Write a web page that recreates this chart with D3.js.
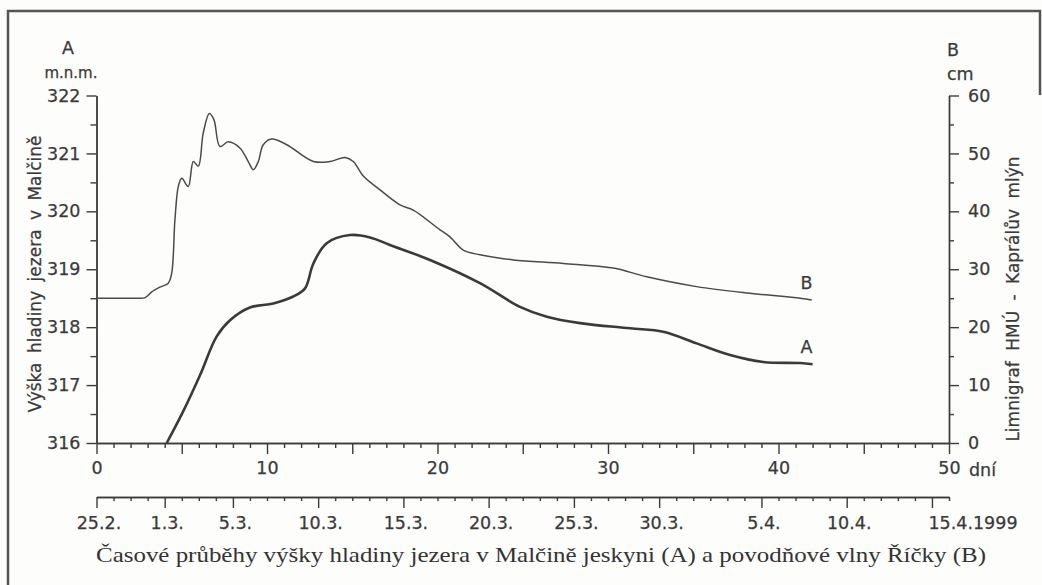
<!DOCTYPE html>
<html>
<head>
<meta charset="utf-8">
<script src="https://cdn.jsdelivr.net/npm/d3@7"></script>
<style>
  body { margin: 0; background: #fdfdfc; }
  svg { display: block; }
</style>
</head>
<body>
<div id="chart"></div>
<script>
// Reference values
// A: lake level in Malčina cave (m n.m.), B: flood wave of Říčka (cm)
const aDays = [4.12, 5.09, 6.07, 7.05, 7.83, 9.0, 10.37, 11.54, 12.23, 12.72, 13.5, 14.87, 16.04, 17.21, 19.56, 22.49, 24.84, 26.41, 28.36, 31.29, 33.24, 35.2, 37.16, 39.1, 41.27, 42.0];
const aLevel = [316.0, 316.55, 317.17, 317.84, 318.12, 318.34, 318.41, 318.53, 318.67, 319.10, 319.45, 319.59, 319.55, 319.42, 319.16, 318.76, 318.35, 318.18, 318.07, 317.98, 317.92, 317.72, 317.52, 317.40, 317.38, 317.36];

const bDays = [0, 2.4, 2.85, 3.24, 3.72, 4.21, 4.41, 4.6, 4.8, 5.0, 5.38, 5.68, 5.97, 6.26, 6.62, 6.89, 7.24, 7.73, 8.42, 8.9, 9.2, 9.49, 9.78, 10.28, 11.16, 12.72, 13.7, 14.58, 15.06, 15.65, 16.63, 17.8, 18.58, 20.15, 20.73, 21.51, 22.49, 24.45, 27.38, 30.31, 32.27, 35.2, 38.13, 41.27, 41.95];
const bCm = [25, 25, 25.1, 26.1, 26.9, 27.6, 29.3, 38.5, 44.3, 45.7, 44.3, 48.6, 47.8, 53.5, 56.9, 55.8, 51.2, 52.0, 50.9, 48.6, 47.2, 48.6, 51.5, 52.5, 51.5, 48.6, 48.6, 49.3, 48.6, 46.1, 43.7, 41.1, 40.2, 36.8, 35.6, 33.3, 32.5, 31.6, 31.0, 30.2, 28.7, 27.0, 25.9, 25.0, 24.7];

// axis ticks
const levelTicks = [316, 317, 318, 319, 320, 321, 322];
const cmTicks = [0, 10, 20, 30, 40, 50, 60];
const dateLabels = ["25.2.", "1.3.", "5.3.", "10.3.", "15.3.", "20.3.", "25.3.", "30.3.", "5.4.", "10.4.", "15.4.1999"];
const dateDays = [0, 4, 8, 13, 18, 23, 28, 33, 39, 44, 49];

const width = 1042;
const height = 585;
const ink = "#3b3b3b";
const tickFont = "'DejaVu Sans', sans-serif";
const fs = 17.5;

const svg = d3.select("#chart")
    .append("svg")
    .attr("width", width)
    .attr("height", height);

// frame
svg.append("path")
    .attr("d", "M8,590 L8,11 L1040,11 L1040,95")
    .attr("fill", "none")
    .attr("stroke", "#555")
    .attr("stroke-width", 2.5);

// scales
const x = d3.scaleLinear().domain([0, 50]).range([96.5, 949]);
const yA = d3.scaleLinear().domain([316, 322]).range([443, 95.5]);
const yB = d3.scaleLinear().domain([0, 60]).range([443, 95.5]);

function styleAxis(g) {
    g.attr("font-family", tickFont).attr("font-size", fs);
    g.selectAll("path, line").attr("stroke", ink).attr("stroke-width", 1.4);
    g.selectAll("text").attr("fill", "#3a3a3a").attr("stroke", "#3a3a3a").attr("stroke-width", 0.25);
}

// left axis, minor then major
svg.append("g")
    .attr("transform", `translate(${x(0)},0)`)
    .call(d3.axisLeft(yA).tickValues(d3.range(316.5, 322, 1)).tickSize(6).tickSizeOuter(0).tickFormat(""))
    .call(styleAxis);
svg.append("g")
    .attr("transform", `translate(${x(0)},0)`)
    .call(d3.axisLeft(yA).tickValues(levelTicks).tickSize(10).tickSizeOuter(0).tickPadding(6).tickFormat(d3.format("d")))
    .call(styleAxis);

// right axis
svg.append("g")
    .attr("transform", `translate(${x(50)},0)`)
    .call(d3.axisRight(yB).tickValues(d3.range(5, 60, 10)).tickSize(5).tickSizeOuter(0).tickFormat(""))
    .call(styleAxis);
svg.append("g")
    .attr("transform", `translate(${x(50)},0)`)
    .call(d3.axisRight(yB).tickValues(cmTicks).tickSize(10).tickSizeOuter(0).tickPadding(9).tickFormat(d3.format("d")))
    .call(styleAxis);

// day axis
svg.append("g")
    .attr("transform", `translate(0,${yA(316)})`)
    .call(d3.axisBottom(x).tickValues(d3.range(0, 51).filter(d => d % 5 !== 0)).tickSize(5).tickSizeOuter(0).tickFormat(""))
    .call(styleAxis);
svg.append("g")
    .attr("transform", `translate(0,${yA(316)})`)
    .call(d3.axisBottom(x).tickValues(d3.range(0, 51, 5)).tickSize(11).tickSizeOuter(0).tickPadding(8)
        .tickFormat(d => d % 10 === 0 ? d : ""))
    .call(styleAxis);

// date axis
const dateY = 497;
svg.append("g")
    .attr("transform", `translate(0,${dateY})`)
    .call(d3.axisBottom(x).tickValues(d3.range(0, 51).filter(d => !dateDays.includes(d))).tickSize(4).tickSizeOuter(0).tickFormat(""))
    .call(styleAxis);
const dateAxis = svg.append("g")
    .attr("transform", `translate(0,${dateY})`)
    .call(d3.axisBottom(x).tickValues(dateDays).tickSize(11).tickSizeOuter(0).tickPadding(9)
        .tickFormat((d, i) => dateLabels[i]))
    .call(styleAxis);
dateAxis.selectAll("text")
    .attr("text-anchor", (d, i) => i === dateLabels.length - 1 ? "start" : "middle")
    .attr("dx", (d, i) => i === dateLabels.length - 1 ? -4 : 2);

// series
const lineA = d3.line()
    .x((d, i) => x(aDays[i]))
    .y(d => yA(d))
    .curve(d3.curveCatmullRom.alpha(0.5));
const lineB = d3.line()
    .x((d, i) => x(bDays[i]))
    .y(d => yB(d))
    .curve(d3.curveCatmullRom.alpha(0.5));

svg.append("path")
    .datum(bCm)
    .attr("fill", "none")
    .attr("stroke", "#4a4a4a")
    .attr("stroke-width", 1.5)
    .attr("d", lineB);

svg.append("path")
    .datum(aLevel)
    .attr("fill", "none")
    .attr("stroke", "#3a3a3a")
    .attr("stroke-width", 2.6)
    .attr("d", lineA);

// text helper
function addText(tx, ty, str, extra) {
    const t = svg.append("text").attr("x", tx).attr("y", ty).text(str);
    const attrs = Object.assign({
        "font-family": tickFont, "font-size": fs, "fill": "#3a3a3a",
        "stroke": "#3a3a3a", "stroke-width": 0.25
    }, extra || {});
    Object.entries(attrs).forEach(([k, v]) => t.attr(k, v));
    return t;
}

addText(969, 476, "dní");

// series labels
addText(x(42), yB(26.6), "B", { "text-anchor": "end" });
addText(x(42), yA(317.55), "A", { "text-anchor": "end" });

// axis titles
addText(68, 54, "A", { "text-anchor": "middle" });
addText(71, 78, "m.n.m.", { "text-anchor": "middle", "font-size": 15 });
addText(947, 56, "B");
addText(947, 80, "cm");

addText(0, 0, "Výška hladiny jezera v Malčině", { "text-anchor": "middle", "font-size": 17, "word-spacing": 4 })
    .attr("transform", "translate(41,274) rotate(-90)");
addText(0, 0, "Limnigraf HMÚ - Kaprálův mlýn", { "text-anchor": "middle", "font-size": 17, "word-spacing": 5 })
    .attr("transform", "translate(1019,299) rotate(-90)");

// caption
svg.append("text")
    .attr("x", 96).attr("y", 562)
    .attr("font-family", "'Liberation Serif', 'Times New Roman', serif")
    .attr("font-size", 22)
    .attr("fill", "#333")
    .attr("textLength", 890)
    .attr("lengthAdjust", "spacingAndGlyphs")
    .text("Časové průběhy výšky hladiny jezera v Malčině jeskyni (A) a povodňové vlny Říčky (B)");
</script>
</body>
</html>
